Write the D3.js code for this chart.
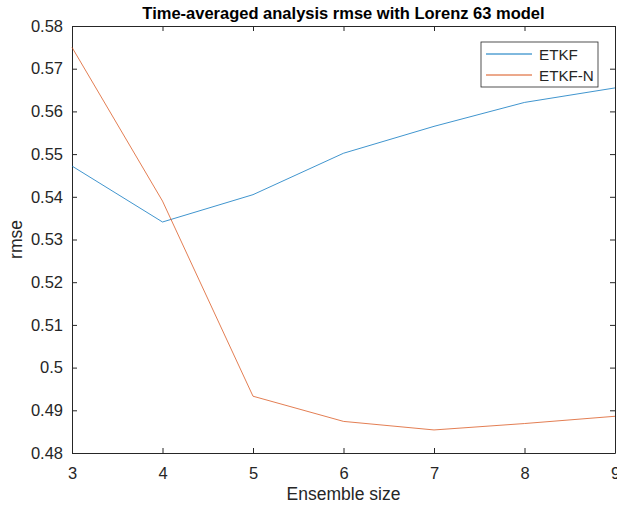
<!DOCTYPE html>
<html>
<head>
<meta charset="utf-8">
<script src="https://cdn.jsdelivr.net/npm/d3@7"></script>
<style>
	body { margin: 0; background: #fff; }
	svg { display: block; font-family: 'Liberation Sans', Arial, sans-serif; }
	.tick text { fill: #262626; font-size: 16.5px; }
	.domain, .tick line { stroke: #262626; }
</style>
</head>
<body>
<svg id="chart"></svg>
<script>
// data
const ensembleSizes = [3, 4, 5, 6, 7, 8, 9];
const etkf = [0.5472, 0.5341, 0.5405, 0.5502, 0.5565, 0.5621, 0.5655];
const etkfN = [0.5750, 0.5390, 0.4933, 0.4874, 0.4854, 0.4869, 0.4886];
const yTicks = [0.48, 0.49, 0.5, 0.51, 0.52, 0.53, 0.54, 0.55, 0.56, 0.57, 0.58];
const seriesNames = ['ETKF', 'ETKF-N'];
const seriesColors = ['#0072BD', '#D95319'];

// dimensions
const W = 617;
const H = 506;
const marginLeft = 72;
const marginRight = 2;
const marginTop = 26;
const marginBottom = 53;

const $svg = d3.select('#chart').attr('width', W).attr('height', H);

const scaleX = d3.scaleLinear().domain([3, 9]).range([marginLeft, W - marginRight]);
const scaleY = d3.scaleLinear().domain([0.48, 0.58]).range([H - marginBottom, marginTop]);

const tickLen = 5;

// axes
$svg.append('g')
	.attr('transform', `translate(0, ${H - marginBottom})`)
	.call(d3.axisBottom(scaleX).tickValues(ensembleSizes).tickFormat(d3.format('d')).tickSizeInner(-tickLen).tickSizeOuter(0).tickPadding(14));

$svg.append('g')
	.attr('transform', `translate(0, ${marginTop})`)
	.call(d3.axisTop(scaleX).tickValues(ensembleSizes).tickFormat('').tickSizeInner(-tickLen).tickSizeOuter(0));

$svg.append('g')
	.attr('transform', `translate(${marginLeft}, 0)`)
	.call(d3.axisLeft(scaleY).tickValues(yTicks).tickFormat(d => d3.format('')(+d.toFixed(2))).tickSizeInner(-tickLen).tickSizeOuter(0).tickPadding(9));

$svg.append('g')
	.attr('transform', `translate(${W - marginRight}, 0)`)
	.call(d3.axisRight(scaleY).tickValues(yTicks).tickFormat('').tickSizeInner(-tickLen).tickSizeOuter(0));

// lines
const line = d3.line()
	.x((d, i) => scaleX(ensembleSizes[i]))
	.y(d => scaleY(d));

[etkf, etkfN].forEach((vals, i) => {
	$svg.append('path')
		.datum(vals)
		.attr('fill', 'none')
		.attr('stroke', seriesColors[i])
		.attr('stroke-width', 1)
		.attr('opacity', 0.75)
		.attr('d', line);
});

// title + labels
$svg.append('text')
	.attr('x', (marginLeft + W - marginRight) / 2)
	.attr('y', 19)
	.attr('text-anchor', 'middle')
	.attr('font-weight', 'bold')
	.attr('font-size', 16.5)
	.attr('fill', '#000')
	.text('Time-averaged analysis rmse with Lorenz 63 model');

$svg.append('text')
	.attr('x', (marginLeft + W - marginRight) / 2)
	.attr('y', 500)
	.attr('text-anchor', 'middle')
	.attr('font-size', 17.5)
	.attr('fill', '#262626')
	.text('Ensemble size');

$svg.append('text')
	.attr('transform', `translate(22, ${(marginTop + H - marginBottom) / 2}) rotate(-90)`)
	.attr('text-anchor', 'middle')
	.attr('font-size', 17.5)
	.attr('fill', '#262626')
	.text('rmse');

// legend
const $legend = $svg.append('g').attr('transform', 'translate(481, 42)');
$legend.append('rect')
	.attr('width', 117)
	.attr('height', 45)
	.attr('fill', '#fff')
	.attr('stroke', '#262626')
	.attr('stroke-width', 0.8);

seriesNames.forEach((name, i) => {
	const y = 12 + i * 21;
	$legend.append('line')
		.attr('x1', 5).attr('x2', 51)
		.attr('y1', y).attr('y2', y)
		.attr('stroke', seriesColors[i])
		.attr('stroke-width', 1);
	$legend.append('text')
		.attr('x', 58).attr('y', y + 5.5)
		.attr('font-size', 15.2)
		.attr('fill', '#262626')
		.text(name);
});
</script>
</body>
</html>
